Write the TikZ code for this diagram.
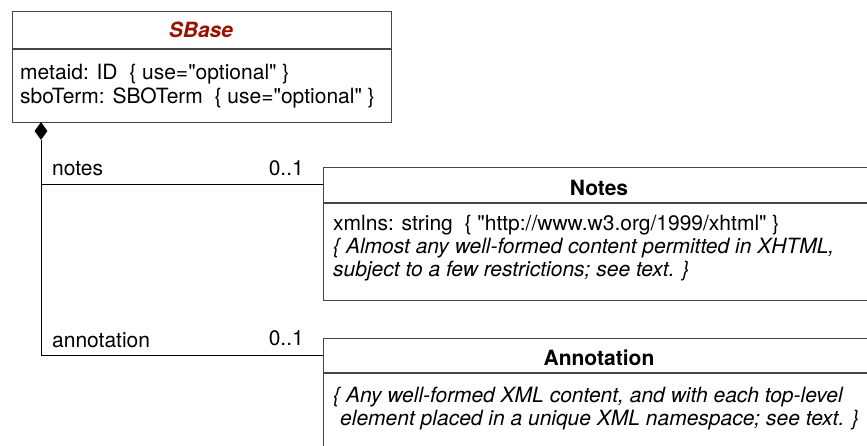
\documentclass[tikz,border=0pt]{standalone}
\usepackage{fontspec}
\setmainfont{TeX Gyre Heros}
\usetikzlibrary{shapes.geometric}

\definecolor{classred}{RGB}{153,17,0}
\definecolor{boxline}{RGB}{70,70,70}

\newcommand{\qt}{\textquotedbl}

\tikzset{
  classbox/.style={draw=boxline, line width=1.3pt, anchor=north west, inner sep=0pt},
  divider/.style={boxline, line width=1.3pt},
  classname/.style={font=\fontsize{21}{25}\selectfont\bfseries, anchor=base, inner sep=0pt},
  attr/.style={font=\fontsize{21}{25}\selectfont, anchor=base west, inner sep=0pt},
  remark/.style={attr, font=\fontsize{21}{25}\selectfont\itshape},
  assoc/.style={black, line width=1pt},
}

\begin{document}
\begin{tikzpicture}[x=1pt, y=-1pt]
	\useasboundingbox (0,0) rectangle (867,445);
	
	% SBase
	\node[classbox, minimum width=379pt, minimum height=111pt] (sbase) at (12,11) {};
	\draw[divider] (sbase.west |- 0,49) -- (sbase.east |- 0,49);
	\node[classname, text=classred, font=\fontsize{21}{25}\selectfont\bfseries\itshape] (sbasename) at (201,37) {SBase};
	\node[attr] (metaid) at (20,79) {metaid: ID~ \{ use=\qt optional\qt\ \}};
	\node[attr] (sboterm) at (20,103) {sboTerm: SBOTerm~ \{ use=\qt optional\qt\ \}};
	
	% Notes
	\node[classbox, minimum width=552pt, minimum height=133pt] (notes) at (323,167) {};
	\draw[divider] (notes.west |- 0,203) -- (notes.east |- 0,203);
	\node[classname] (notesname) at (599,195) {Notes};
	\node[attr] (xmlns) at (333,230) {xmlns: string~ \{ \qt http://www.w3.org/1999/xhtml\qt\ \}};
	\node[remark] (notesa) at (333,253) {\{ Almost any well-formed content permitted in XHTML,};
	\node[remark] (notesb) at (333,276) {subject to a few restrictions; see text. \}};
	
	% Annotation
	\node[classbox, minimum width=552pt, minimum height=130pt] (annotation) at (323,338) {};
	\draw[divider] (annotation.west |- 0,373) -- (annotation.east |- 0,373);
	\node[classname] (annotationname) at (599,365) {Annotation};
	\node[remark] (anna) at (333,402) {\{ Any well-formed XML content, and with each top-level};
	\node[remark] (annb) at (340,425) {element placed in a unique XML namespace; see text. \}};
	
	% Komposition
	\node[diamond, fill=black, minimum width=13pt, minimum height=18pt, inner sep=0pt] (owner) at (41,131) {};
	\coordinate (notesend) at (notes.west |- 0,184);
	\coordinate (annend) at (annotation.west |- 0,355);
	\draw[assoc] (owner.south) |- (annend);
	\draw[assoc] (owner.south |- notesend) -- (notesend);
	
	% Rollen
	\node[attr] (notesrole) at (52,175) {notes};
	\node[attr, anchor=base east] (notesmult) at (304,175) {0..1};
	\node[attr] (annrole) at (52,347) {annotation};
	\node[attr, anchor=base east] (annmult) at (304,345) {0..1};
	
\end{tikzpicture}
\end{document}
